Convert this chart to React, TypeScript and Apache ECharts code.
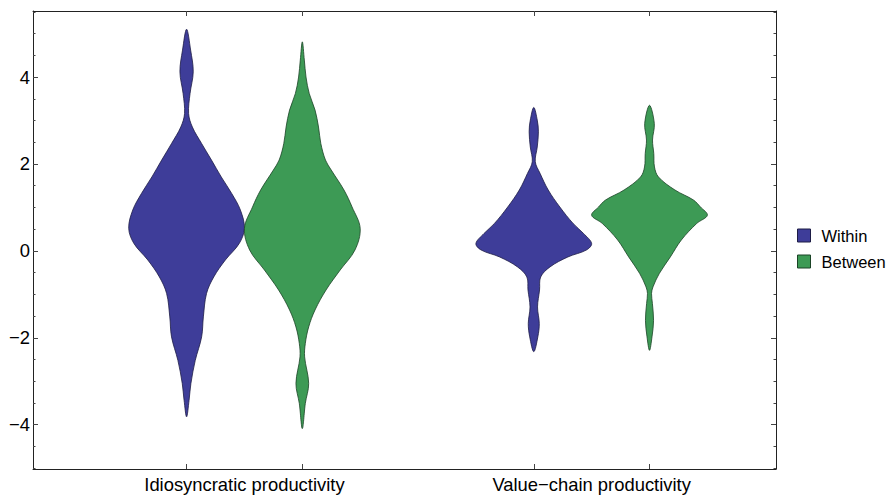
import React, { useEffect, useRef } from "react";
import * as echarts from "echarts";

const categories = ["Idiosyncratic productivity", "Value\u2212chain productivity"];
const seriesNames = ["Within", "Between"];

// violin profiles: [value, relative half width]
const withinIdiosyncratic: number[][] = [
  [5.1, 0], [4.62, 0.07], [4.12, 0.115], [3.62, 0.06], [3.16, 0.035], [2.85, 0.1],
  [2.47, 0.26], [2.09, 0.43], [1.7, 0.6], [1.32, 0.78], [0.94, 0.93], [0.52, 1.0],
  [0.17, 0.91], [-0.21, 0.67], [-0.6, 0.47], [-0.98, 0.345], [-1.52, 0.29],
  [-1.98, 0.26], [-2.52, 0.15], [-3.05, 0.075], [-3.44, 0.043], [-3.82, 0],
];
const betweenIdiosyncratic: number[][] = [
  [4.81, 0], [4.39, 0.035], [4.0, 0.064], [3.62, 0.12], [3.24, 0.22], [2.85, 0.28],
  [2.47, 0.32], [2.09, 0.4], [1.86, 0.5], [1.4, 0.72], [1.01, 0.86], [0.52, 1.0],
  [0.02, 0.91], [-0.44, 0.655], [-0.9, 0.41], [-1.36, 0.22], [-1.75, 0.11],
  [-2.13, 0.052], [-2.44, 0.04], [-3.05, 0.11], [-3.51, 0.052], [-4.09, 0],
];
const withinValueChain: number[][] = [
  [3.3, 0], [3.01, 0.06], [2.74, 0.08], [2.39, 0.06], [2.05, 0.026], [1.78, 0.11],
  [1.4, 0.25], [1.01, 0.45], [0.63, 0.68], [0.4, 0.86], [0.17, 1.0], [0.02, 0.91],
  [-0.14, 0.59], [-0.37, 0.28], [-0.6, 0.12], [-0.9, 0.1], [-1.29, 0.065],
  [-1.67, 0.095], [-1.98, 0.07], [-2.32, 0],
];
const betweenValueChain: number[][] = [
  [3.35, 0], [2.93, 0.083], [2.55, 0.052], [2.24, 0.074], [1.93, 0.086], [1.7, 0.155],
  [1.4, 0.44], [1.17, 0.76], [1.01, 0.88], [0.82, 1.0], [0.63, 0.815], [0.25, 0.55],
  [-0.14, 0.36], [-0.52, 0.17], [-0.83, 0.06], [-0.98, 0.035], [-1.21, 0.05],
  [-1.6, 0.07], [-1.98, 0.043], [-2.29, 0],
];

const yMajorTicks = [-4, -2, 0, 2, 4];
const yMinorTicks = [-5, -4.5, -3.5, -3, -2.5, -1.5, -1, -0.5, 0.5, 1, 1.5, 2.5, 3, 3.5, 4.5, 5, 5.5];
const groupIndex = [0, 1];

const HALF = 1 / 6;
const X_MIN = -0.609;
const X_MAX = 1.531;
const Y_MIN = -5.02;
const Y_MAX = 5.52;

const FILL = ["#3e3d99", "#3d9a55"];
const STROKE = ["#1d1c45", "#1b4326"];
const FONT = "Liberation Sans, Arial, sans-serif";

const violinCenters = groupIndex.flatMap((g) => [g - HALF, g + HALF]);

export default function App() {
  const ref = useRef<HTMLDivElement>(null);
  useEffect(() => {
    const chart = echarts.init(ref.current!, null, { renderer: "svg" });
    const profiles = [
      [withinIdiosyncratic, withinValueChain],
      [betweenIdiosyncratic, betweenValueChain],
    ];
    const makeRender = (s: number) => (params: any, api: any) => {
      const g = api.value(0);
      const prof = profiles[s][params.dataIndex];
      const side = s === 0 ? -1 : 1;
      const cx = g + side * HALF;
      const left = prof.map(([v, w]) => api.coord([cx - w * HALF, v]));
      const right = prof
        .slice()
        .reverse()
        .map(([v, w]) => api.coord([cx + w * HALF, v]));
      const points = left.concat(right.slice(1, right.length - 1));
      return {
        type: "polygon",
        shape: { points, smooth: 0.35 },
        style: { fill: FILL[s], stroke: STROKE[s], lineWidth: 0.8 },
      };
    };
    const tickStyle = { color: "#444", width: 1 };
    const lineStyle = { color: "#222", width: 1 };
    const option: any = {
      animation: false,
      grid: { left: 33, right: 112, top: 11, bottom: 27, containLabel: false },
      legend: {
        orient: "vertical",
        left: 797,
        top: 227,
        padding: 0,
        icon: "rect",
        itemWidth: 13,
        itemHeight: 13,
        itemGap: 9,
        textStyle: {
          fontSize: 16.5,
          color: "#000",
          fontFamily: FONT,
          padding: [0, 0, 0, 6],
          overflow: "none",
        },
        data: seriesNames.map((n, i) => ({
          name: n,
          itemStyle: { color: FILL[i], borderColor: STROKE[i], borderWidth: 1 },
        })),
      },
      xAxis: [
        {
          type: "value",
          min: X_MIN,
          max: X_MAX,
          position: "bottom",
          axisLine: { show: true, onZero: false, lineStyle },
          axisTick: { show: true, inside: true, length: 5, customValues: violinCenters, lineStyle: tickStyle },
          axisLabel: {
            show: true,
            customValues: groupIndex,
            formatter: (v: number) => categories[Math.round(v)],
            fontSize: 18.4,
            color: "#000",
            fontFamily: FONT,
            margin: 6,
          },
          splitLine: { show: false },
        },
        {
          type: "value",
          min: X_MIN,
          max: X_MAX,
          position: "top",
          axisLine: { show: true, onZero: false, lineStyle },
          axisTick: { show: true, inside: true, length: 5, customValues: violinCenters, lineStyle: tickStyle },
          axisLabel: { show: false },
          splitLine: { show: false },
        },
      ],
      yAxis: [
        {
          type: "value",
          min: Y_MIN,
          max: Y_MAX,
          position: "left",
          axisLine: { show: true, onZero: false, lineStyle },
          axisTick: { show: true, inside: true, length: 5, customValues: yMajorTicks, lineStyle: tickStyle },
          axisLabel: {
            show: true,
            customValues: yMajorTicks,
            formatter: (v: number) => String(v).replace("-", "\u2212"),
            fontSize: 18.4,
            color: "#000",
            fontFamily: FONT,
            margin: 3,
          },
          splitLine: { show: false },
        },
        {
          type: "value",
          min: Y_MIN,
          max: Y_MAX,
          position: "left",
          axisLine: { show: false, onZero: false },
          axisTick: { show: true, inside: true, length: 2.5, customValues: yMinorTicks, lineStyle: tickStyle },
          axisLabel: { show: false },
          splitLine: { show: false },
        },
        {
          type: "value",
          min: Y_MIN,
          max: Y_MAX,
          position: "right",
          axisLine: { show: true, onZero: false, lineStyle },
          axisTick: { show: true, inside: true, length: 5, customValues: yMajorTicks, lineStyle: tickStyle },
          axisLabel: { show: false },
          splitLine: { show: false },
        },
        {
          type: "value",
          min: Y_MIN,
          max: Y_MAX,
          position: "right",
          axisLine: { show: false, onZero: false },
          axisTick: { show: true, inside: true, length: 2.5, customValues: yMinorTicks, lineStyle: tickStyle },
          axisLabel: { show: false },
          splitLine: { show: false },
        },
      ],
      series: seriesNames.map((name, s) => ({
        type: "custom",
        name,
        xAxisIndex: 0,
        yAxisIndex: 0,
        itemStyle: { color: FILL[s], borderColor: STROKE[s] },
        encode: { x: 0, y: 1 },
        data: groupIndex.map((g) => [g, 0]),
        renderItem: makeRender(s),
      })),
    };
    chart.setOption(option);
    return () => chart.dispose();
  }, []);
  return (
    <div
      ref={ref}
      style={{ position: "absolute", left: 0, top: 0, width: 888, height: 496 }}
    />
  );
}
